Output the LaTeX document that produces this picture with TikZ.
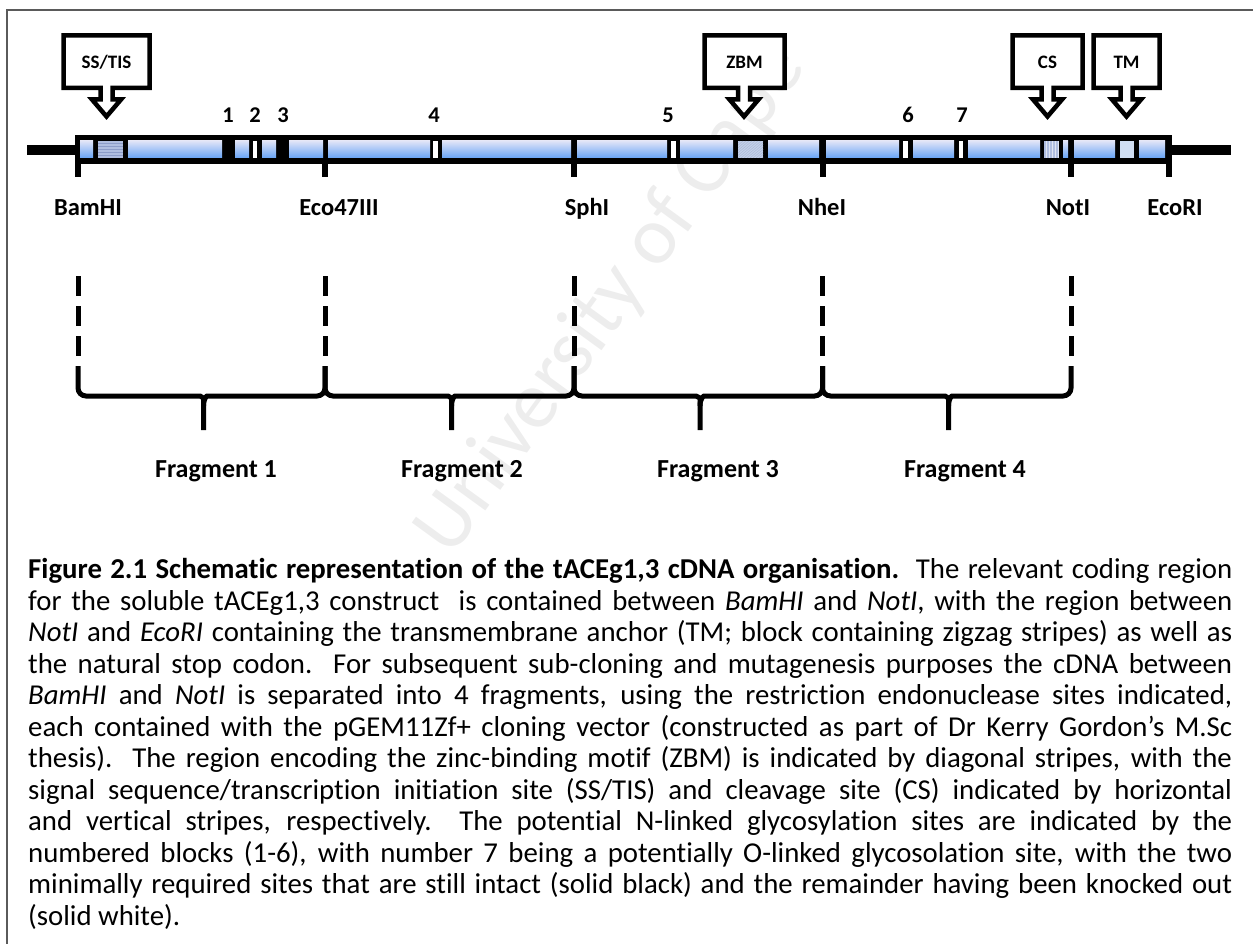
\documentclass[tikz,border=0pt]{standalone}
\usepackage{fontspec}
\setmainfont{Carlito}[Ligatures=CommonOff]
\usetikzlibrary{positioning,calc}
\hyphenpenalty=10000
\exhyphenpenalty=10000

\definecolor{segtop}{RGB}{224,228,247}
\definecolor{segbot}{RGB}{104,164,246}
\definecolor{hatchfill}{RGB}{176,190,224}
\definecolor{hatchline}{RGB}{140,156,200}
\definecolor{zbmfill}{RGB}{196,210,234}
\definecolor{tmfill}{RGB}{208,222,243}
\definecolor{framegrey}{RGB}{90,90,90}

\begin{document}
\begin{tikzpicture}[x=1pt,y=-1pt,
  seg/.style={top color=segtop, bottom color=segbot},
  sitelabel/.style={font=\fontsize{22.5}{26}\selectfont\bfseries, anchor=base, inner sep=0pt},
  enzlabel/.style={font=\fontsize{24.5}{28}\selectfont\bfseries, anchor=base, inner sep=0pt},
  fraglabel/.style={font=\fontsize{26}{30}\selectfont\bfseries, anchor=base, inner sep=0pt},
  callout/.style={draw, line width=4.5pt, fill=white, miter limit=10},
  calltext/.style={font=\fontsize{19}{23}\selectfont\bfseries, anchor=base, inner sep=0pt},
  tickline/.style={line width=6pt},
  cutline/.style={line width=5pt, dash pattern=on 20pt off 10pt},
  bracket/.style={line width=5pt, rounded corners=8pt}
]
\useasboundingbox (0,0) rectangle (1253,944);

% watermark
\node[rotate=54, text=black!7, font=\fontsize{82}{90}\selectfont] (wm) at (612,300) {University of Cape};

% frame
\draw[framegrey, line width=1.5pt] (7,944) -- (7,10) -- (1253,10);

% restriction sites
\coordinate (bam) at (78,160);
\coordinate (eco) at (325,160);
\coordinate (sph) at (574,160);
\coordinate (nhe) at (822.5,160);
\coordinate (not) at (1071,160);
\coordinate (ecr) at (1168.5,160);

% vector line and insert
\fill (27,145) rectangle (1231,155);
\fill (75,135) rectangle (1172,164);
\foreach \s in {bam,eco,sph,nhe,not,ecr}
  \draw[tickline] (\s) -- ++(0,17);

\foreach \a/\b in {80/93, 128/222, 235/249, 262/276, 289/323, 328/430, 442/571,
  577/667, 680/733, 768/819, 826/899, 913/954, 968/1040, 1063/1068, 1074/1115, 1139/1165}
  \shade[seg] (\a,141) rectangle (\b,158);

% knocked-out sites
\foreach \a/\b in {253/257, 433/438, 671/676, 903/908, 959/963}
  \fill[white] (\a,141) rectangle (\b,158);

% SS/TIS block
\fill[hatchfill] (98,141) rectangle (123,158);
\foreach \y in {143,146,...,157}
  \draw[hatchline, line width=0.8pt] (98,\y) -- (123,\y);

% ZBM block
\begin{scope}
  \clip (738,141) rectangle (763,158);
  \fill[zbmfill] (738,141) rectangle (763,158);
  \foreach \x in {720,723,...,765}
    \draw[hatchline!70, line width=0.6pt] (\x,158) -- ++(20,-17);
\end{scope}

% CS block
\fill[hatchfill] (1044,141) rectangle (1059,158);
\foreach \x in {1046,1049,...,1058}
  \draw[white!60!hatchfill, line width=0.8pt] (\x,141) -- (\x,158);

% TM block
\fill[tmfill] (1120,141) rectangle (1134,158);

% callouts
\draw[callout] (63.5,35.5) -- (149.5,35.5) -- (149.5,88) -- (112.5,88) -- (112.5,99.5)
  -- (121,99.5) -- (106.5,116.5) -- (92,99.5) -- (100.5,99.5) -- (100.5,88) -- (63.5,88) -- cycle;
\draw[callout] (704.5,35.5) -- (784.5,35.5) -- (784.5,88) -- (750,88) -- (750,99.5)
  -- (758.5,99.5) -- (744,116.5) -- (729.5,99.5) -- (738,99.5) -- (738,88) -- (704.5,88) -- cycle;
\draw[callout] (1012.5,35.5) -- (1082.5,35.5) -- (1082.5,88) -- (1053.5,88) -- (1053.5,99.5)
  -- (1062,99.5) -- (1047.5,116.5) -- (1033,99.5) -- (1041.5,99.5) -- (1041.5,88) -- (1012.5,88) -- cycle;
\draw[callout] (1093.5,35.5) -- (1159.5,35.5) -- (1159.5,88) -- (1132.5,88) -- (1132.5,99.5)
  -- (1141,99.5) -- (1126.5,116.5) -- (1112,99.5) -- (1120.5,99.5) -- (1120.5,88) -- (1093.5,88) -- cycle;
\node[calltext] (sstis) at (106.5,69) {SS/TIS};
\node[calltext] (zbm) at (744.5,69) {ZBM};
\node[calltext] (cs) at (1047.5,69) {CS};
\node[calltext] (tm) at (1126.5,69) {TM};

% glycosylation sites
\node[sitelabel] (g1) at (228,123) {1};
\node[sitelabel] (g2) at (255,123) {2};
\node[sitelabel] (g3) at (283,123) {3};
\node[sitelabel] (g4) at (434,123) {4};
\node[sitelabel] (g5) at (668,123) {5};
\node[sitelabel] (g6) at (908,123) {6};
\node[sitelabel] (g7) at (962,123) {7};

% enzyme names
\node[enzlabel] (bamlab) at (88,215) {BamHI};
\node[enzlabel] (ecolab) at (339,215) {Eco47III};
\node[enzlabel] (sphlab) at (587,215) {SphI};
\node[enzlabel] (nhelab) at (822,215) {NheI};
\node[enzlabel] (notlab) at (1068,215) {NotI};
\node[enzlabel] (ecrlab) at (1175,215) {EcoRI};

% cut positions
\foreach \s in {bam,eco,sph,nhe,not}
  \draw[cutline] ($(\s)+(0,116)$) -- ++(0,80);

% fragments
\draw[bracket] (78,366) -- (78,396) -- (192,396) .. controls (200,396) and (203.5,398) .. (203.5,406) -- (203.5,430);
\draw[bracket] (203.5,406) .. controls (203.5,398) and (207,396) .. (215,396) -- (325,396) -- (325,366);
\draw[bracket] (325,366) -- (325,396) -- (440,396) .. controls (448,396) and (451.5,398) .. (451.5,406) -- (451.5,430);
\draw[bracket] (451.5,406) .. controls (451.5,398) and (455,396) .. (463,396) -- (574,396) -- (574,366);
\draw[bracket] (574,366) -- (574,396) -- (688,396) .. controls (696,396) and (700,398) .. (700,406) -- (700,430);
\draw[bracket] (700,406) .. controls (700,398) and (704,396) .. (712,396) -- (822.5,396) -- (822.5,366);
\draw[bracket] (822.5,366) -- (822.5,396) -- (937,396) .. controls (945,396) and (948.5,398) .. (948.5,406) -- (948.5,430);
\draw[bracket] (948.5,406) .. controls (948.5,398) and (952,396) .. (960,396) -- (1071,396) -- (1071,366);

\node[fraglabel] (f1) at (216,477) {Fragment 1};
\node[fraglabel] (f2) at (462,477) {Fragment 2};
\node[fraglabel] (f3) at (718,477) {Fragment 3};
\node[fraglabel] (f4) at (965,477) {Fragment 4};

% caption
\node[anchor=north west, inner sep=0pt, text width=1204pt, align=justify,
  font=\fontsize{28.8}{31.5}\selectfont] (caption) at (28,556.5) {\strut
{\bfseries Figure 2.1 Schematic representation of the tACEg1,3 cDNA organisation.}\ \ The relevant coding region\linebreak
for the soluble tACEg1,3 construct\ \ is contained between \textit{BamHI} and \textit{NotI}, with the region between\linebreak
\textit{NotI} and \textit{EcoRI} containing the transmembrane anchor (TM; block containing zigzag stripes) as well as\linebreak
the natural stop codon.\ \ For subsequent sub-cloning and mutagenesis purposes the cDNA between\linebreak
\textit{BamHI} and \textit{NotI} is separated into 4 fragments, using the restriction endonuclease sites indicated,\linebreak
each contained with the pGEM11Zf+ cloning vector (constructed as part of Dr Kerry Gordon’s M.Sc\linebreak
thesis).\ \ The region encoding the zinc-binding motif (ZBM) is indicated by diagonal stripes, with the\linebreak
signal sequence/transcription initiation site (SS/TIS) and cleavage site (CS) indicated by horizontal\linebreak
and vertical stripes, respectively.\ \ The potential N-linked glycosylation sites are indicated by the\linebreak
numbered blocks (1-6), with number 7 being a potentially O-linked glycosolation site, with the two\linebreak
minimally required sites that are still intact (solid black) and the remainder having been knocked out\linebreak
(solid white).};
\end{tikzpicture}
\end{document}
